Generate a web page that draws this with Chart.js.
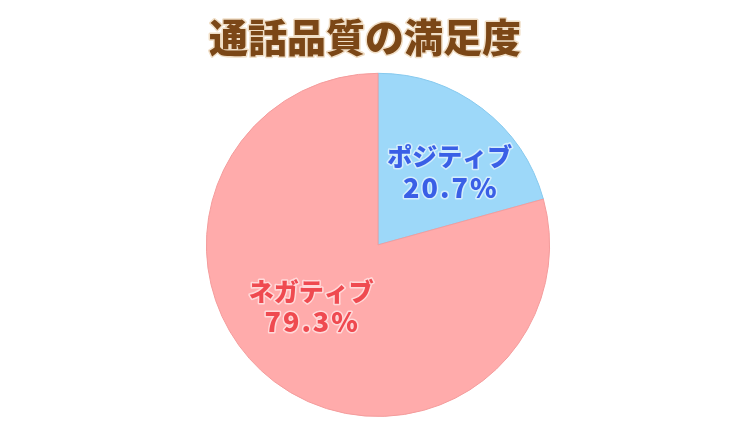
<!DOCTYPE html>
<html>
<head>
<meta charset="utf-8">
<script src="https://cdn.jsdelivr.net/npm/chart.js@4"></script>
<style>
html,body{margin:0;padding:0;background:#fff;}
#wrap{width:750px;height:421px;}
</style>
</head>
<body>
<div id="wrap"><canvas id="pieChart" width="750" height="421"></canvas></div>
<script>
const titleText="通話品質の満足度";
const labels=["ポジティブ","ネガティブ"];
const values=[20.7,79.3];
const colors=["#9dd8f9","#ffabab"];
const borders=["#86c9ee","#f49c9c"];
const textColors=["#3a5fe6","#ef4a50"];
// where the label sits inside its slice: share of the arc, share of the radius
const labelPos=[[0.60,0.595],[0.535,0.53]];

// title drawn by hand so it can sit a little left of centre, like the original
const titleDraw={
id:"titleDraw",
afterDraw(chart){
const ctx=chart.ctx;
ctx.save();
ctx.font="900 39px 'Noto Sans CJK JP'";
ctx.textAlign="center";
ctx.textBaseline="middle";
ctx.lineJoin="round";
ctx.lineWidth=3;
ctx.strokeStyle="rgba(230,200,160,0.6)";
ctx.strokeText(titleText,365,37);
ctx.fillStyle="#7b4717";
ctx.fillText(titleText,365,37);
ctx.restore();
}
};

// label text inside each slice
const sliceLabels={
id:"sliceLabels",
afterDatasetsDraw(chart){
const ctx=chart.ctx;
const meta=chart.getDatasetMeta(0);
meta.data.forEach((arc,i)=>{
const a=arc.startAngle+(arc.endAngle-arc.startAngle)*labelPos[i][0];
const r=arc.outerRadius*labelPos[i][1];
const x=arc.x+Math.cos(a)*r;
const y=arc.y+Math.sin(a)*r;
ctx.save();
ctx.textAlign="center";
ctx.textBaseline="middle";
ctx.lineJoin="round";
ctx.lineWidth=3;
ctx.strokeStyle="rgba(255,255,255,0.55)";
ctx.fillStyle=textColors[i];
const lines=[[labels[i],"0px",25],[values[i].toFixed(1)+"%","2px",27]];
lines.forEach((l,k)=>{
ctx.font="900 "+l[2]+"px 'Noto Sans CJK JP'";
ctx.letterSpacing=l[1];
const yy=y+(k-0.5)*31;
const xx=x+parseInt(l[1])/2;
ctx.strokeText(l[0],xx,yy);
ctx.fillText(l[0],xx,yy);
});
ctx.restore();
});
}
};

new Chart(document.getElementById("pieChart"),{
type:"pie",
data:{
labels:labels,
datasets:[{data:values,backgroundColor:colors,borderColor:borders,borderWidth:1}]
},
options:{
responsive:false,
animation:false,
layout:{padding:{left:6,bottom:4}},
plugins:{
legend:{display:false},
tooltip:{enabled:false},
title:{
display:true,
text:titleText,
color:"rgba(0,0,0,0)",
font:{family:"'Noto Sans CJK JP'",size:39,weight:"900",lineHeight:1.2},
padding:{top:14,bottom:12}
}
}
},
plugins:[sliceLabels,titleDraw]
});
</script>
</body>
</html>
